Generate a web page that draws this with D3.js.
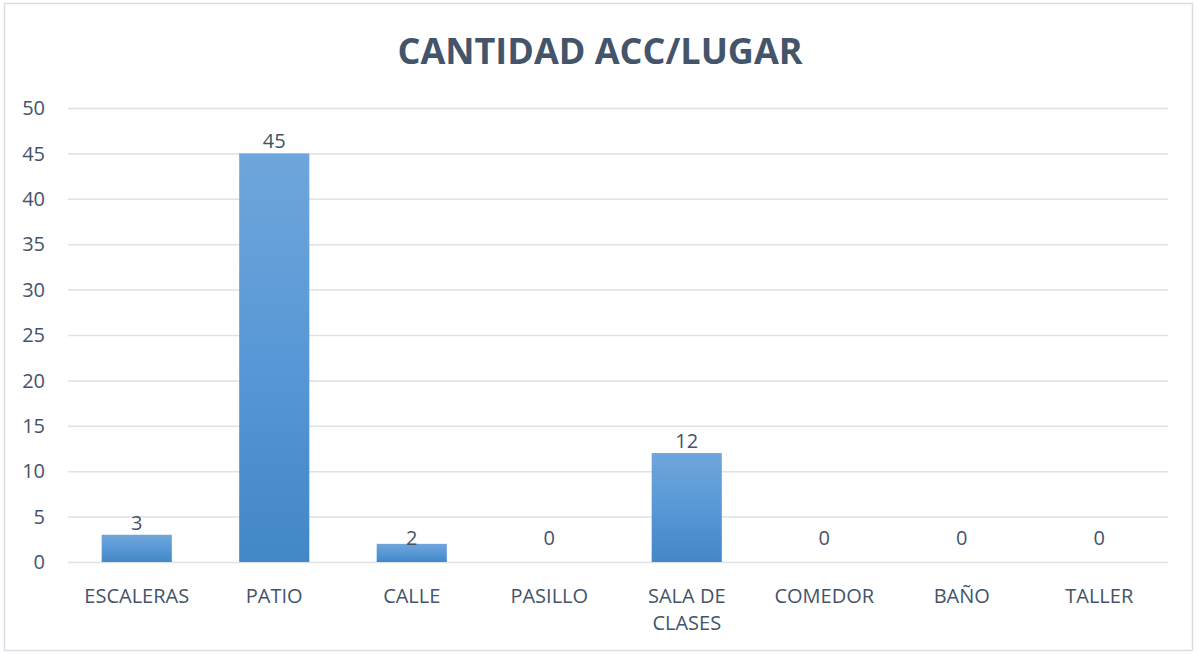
<!DOCTYPE html>
<html lang="es">
<head>
<meta charset="UTF-8">
<title>Cantidad ACC/Lugar</title>
<script src="https://d3js.org/d3.v7.min.js"></script>
<style>
  body { margin: 0; background: #fff; }
  svg text { font-family: "Open Sans", "Noto Sans", sans-serif; fill: #44546a; }
  .grid line { stroke: #dde2ea; stroke-width: 1.5; }
</style>
</head>
<body>
<script>
  // data
  const categories = ["ESCALERAS", "PATIO", "CALLE", "PASILLO", "SALA DE CLASES", "COMEDOR", "BAÑO", "TALLER"]
  const values = [3, 45, 2, 0, 12, 0, 0, 0]
  const yTicks = [0, 5, 10, 15, 20, 25, 30, 35, 40, 45, 50]
  const title = "CANTIDAD ACC/LUGAR"

  const width = 1197, height = 654
  const margin = { left: 68, right: 29, top: 108, bottom: 92 }

  const svg = d3.select("body").append("svg")
    .attr("width", width)
    .attr("height", height)

  // outer chart border
  svg.append("rect")
    .attr("x", 4.5).attr("y", 3.5)
    .attr("width", width - 9).attr("height", height - 7)
    .attr("fill", "#fff")
    .attr("stroke", "#d9dde3")
    .attr("stroke-width", 1.5)

  const x = d3.scaleBand()
    .domain(categories)
    .range([margin.left, width - margin.right])
    .paddingInner(0.49)
    .paddingOuter(0.245)

  const y = d3.scaleLinear()
    .domain([0, 50])
    .range([height - margin.bottom, margin.top])

  // gradient, lighter at the top of each bar
  const grad = svg.append("defs").append("linearGradient")
    .attr("id", "barGrad")
    .attr("x1", 0).attr("x2", 0).attr("y1", 0).attr("y2", 1)
  grad.append("stop").attr("offset", "0%").attr("stop-color", "#6fa6db")
  grad.append("stop").attr("offset", "50%").attr("stop-color", "#5898d6")
  grad.append("stop").attr("offset", "100%").attr("stop-color", "#4287c6")

  // gridlines
  svg.append("g")
    .attr("class", "grid")
    .attr("transform", `translate(${margin.left},0)`)
    .call(d3.axisLeft(y).tickValues(yTicks).tickSize(-(width - margin.left - margin.right)).tickFormat(""))
    .call(g => g.select(".domain").remove())

  // y tick labels
  svg.append("g")
    .selectAll("text")
    .data(yTicks)
    .join("text")
    .attr("x", 45)
    .attr("y", d => y(d))
    .attr("dy", "0.36em")
    .attr("text-anchor", "end")
    .attr("font-size", 20)
    .text(d => d)

  // bars
  svg.append("g")
    .selectAll("rect")
    .data(values)
    .join("rect")
    .attr("x", (d, i) => x(categories[i]))
    .attr("y", d => y(d))
    .attr("width", x.bandwidth())
    .attr("height", d => y(0) - y(d))
    .attr("fill", "url(#barGrad)")

  // value labels (small values sit at a fixed spot just above the baseline)
  svg.append("g")
    .selectAll("text")
    .data(values)
    .join("text")
    .attr("x", (d, i) => x(categories[i]) + x.bandwidth() / 2)
    .attr("y", d => d >= 3 ? y(d) - 5 : y(0) - 17)
    .attr("text-anchor", "middle")
    .attr("font-size", 20)
    .text(d => d)

  // category labels (wrap long ones)
  const wrapped = { "SALA DE CLASES": ["SALA DE", "CLASES"] }
  svg.append("g")
    .selectAll("text")
    .data(categories)
    .join("text")
    .attr("x", d => x(d) + x.bandwidth() / 2)
    .attr("y", 603)
    .attr("text-anchor", "middle")
    .attr("font-size", 20)
    .each(function (d) {
      const lines = wrapped[d] || [d]
      d3.select(this).selectAll("tspan")
        .data(lines)
        .join("tspan")
        .attr("x", x(d) + x.bandwidth() / 2)
        .attr("dy", (l, j) => j ? 27 : 0)
        .text(l => l)
    })

  // title
  svg.append("text")
    .attr("x", 600)
    .attr("y", 64)
    .attr("text-anchor", "middle")
    .attr("font-size", 36)
    .attr("font-weight", "bold")
    .attr("textLength", 405)
    .attr("lengthAdjust", "spacingAndGlyphs")
    .text(title)
</script>
</body>
</html>
